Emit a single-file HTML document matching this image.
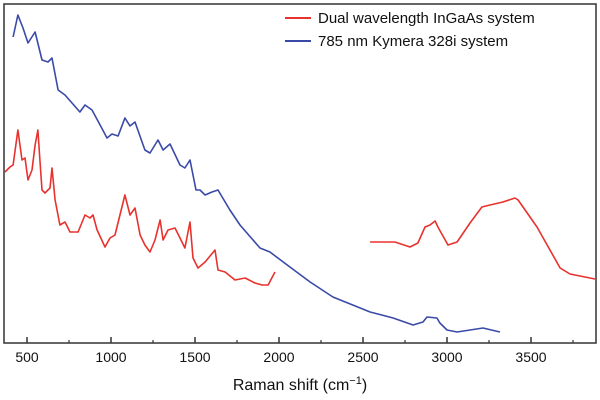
<!DOCTYPE html>
<html><head><meta charset="utf-8"><style>
body{margin:0;background:#fff;}
svg{display:block;font-family:"Liberation Sans",Arial,sans-serif;}
</style></head><body>
<svg id="chart" width="600" height="400" viewBox="0 0 600 400">
<rect x="4" y="4" width="592" height="339" fill="none" stroke="#333" stroke-width="1.5"/>
<g id="ticks"></g>
<g id="series"></g>
<text x="300" y="390" text-anchor="middle" font-size="16" fill="#111">Raman shift (cm<tspan dy="-6" font-size="11">−1</tspan><tspan dy="6">)</tspan></text>
<g>
<line x1="285" y1="18" x2="311" y2="18" stroke="#e8322e" stroke-width="2"/>
<text x="318" y="23" font-size="15" fill="#111">Dual wavelength InGaAs system</text>
<line x1="285" y1="41" x2="311" y2="41" stroke="#3a4aa8" stroke-width="2"/>
<text x="318" y="46" font-size="15" fill="#111">785 nm Kymera 328i system</text>
</g>
</svg>
<script>
const tickValues=[500,1000,1500,2000,2500,3000,3500];
const minorTicks=[750,1250,1750,2250,2750,3250,3750];
const blueX=[417,446,476,506,548,589,625,649,685,726,815,845,887,935,976,1006,1042,1083,1113,1143,1202,1232,1280,1310,1351,1411,1440,1470,1506,1530,1560,1601,1637,1708,1768,1830,1887,1946,2065,2185,2321,2542,2679,2798,2857,2881,2940,2958,3000,3060,3214,3315];
const blueY=[306,328,315,300,311,283,281,285,253,248,231,238,233,218,205,209,207,225,217,221,193,190,203,193,199,178,175,183,153,153,148,151,153,133,118,106,95,91,76,61,46,31,25,18,21,26,25,20,13,11,15,11];
const redLX=[369,399,417,446,470,488,506,530,548,565,577,589,607,637,649,667,696,726,756,804,845,875,893,917,964,994,1024,1083,1113,1143,1173,1202,1232,1262,1292,1310,1339,1381,1411,1440,1470,1488,1518,1560,1619,1637,1679,1738,1798,1857,1899,1935,1976];
const redLY=[171,176,178,213,183,185,163,173,198,213,183,153,150,155,175,143,118,121,111,111,128,125,128,113,96,105,108,148,128,135,108,98,91,103,123,103,113,115,105,95,121,85,75,81,93,73,71,63,65,60,58,58,71];
const redRX=[2542,2690,2780,2827,2869,2899,2929,2946,3006,3060,3137,3208,3256,3333,3405,3423,3536,3673,3732,3881];
const redRY=[101,101,96,100,116,118,122,116,98,101,120,136,138,141,145,143,116,75,69,64];
const NS='http://www.w3.org/2000/svg';
const xs=v=>27+(v-500)*0.168;
const ys=v=>343-v;
const tg=document.getElementById('ticks');
tickValues.forEach(v=>{
 const l=document.createElementNS(NS,'line');
 l.setAttribute('x1',xs(v));l.setAttribute('x2',xs(v));l.setAttribute('y1',343);l.setAttribute('y2',337);
 l.setAttribute('stroke','#333');l.setAttribute('stroke-width','1.5');
 
 
 tg.appendChild(l);
 const t=document.createElementNS(NS,'text');
 t.setAttribute('x',xs(v));t.setAttribute('y',362);t.setAttribute('text-anchor','middle');t.setAttribute('font-size','14');t.setAttribute('fill','#111');
 t.textContent=v;
 
 
 tg.appendChild(t);
});
minorTicks.forEach(v=>{
 const l=document.createElementNS(NS,'line');
 l.setAttribute('x1',xs(v));l.setAttribute('x2',xs(v));l.setAttribute('y1',343);l.setAttribute('y2',340);
 l.setAttribute('stroke','#333');l.setAttribute('stroke-width','1.2');
 
 
 tg.appendChild(l);
});
const sg=document.getElementById('series');
function line(X,Y,color,name){
 const p=document.createElementNS(NS,'path');
 p.setAttribute('d',X.map((x,i)=>(i?'L':'M')+xs(x).toFixed(1)+','+ys(Y[i]).toFixed(1)).join(''));
 p.setAttribute('fill','none');p.setAttribute('stroke',color);p.setAttribute('stroke-width','1.6');p.setAttribute('stroke-linejoin','round');
 
 
 sg.appendChild(p);
}
line(blueX,blueY,'#3a4aa8','kymera-series-line');
line(redLX,redLY,'#e8322e','ingaas-series-line-low');
line(redRX,redRY,'#e8322e','ingaas-series-line-high');
</script>
</body></html>
